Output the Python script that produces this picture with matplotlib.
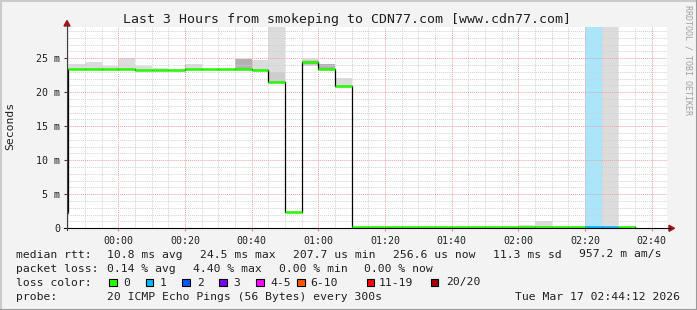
import numpy as np
import matplotlib
matplotlib.use("Agg")
import matplotlib.pyplot as plt
from matplotlib.lines import Line2D
from matplotlib.patches import Polygon, Rectangle

# bin start times in minutes after 00:00 (5 minute steps)
bin_start = [-20, -15, -10, -5, 0, 5, 10, 15, 20, 25, 30, 35, 40, 45, 50, 55, 60, 65,
             70, 75, 80, 85, 90, 95, 100, 105, 110, 115, 120, 125, 130, 135, 140, 145, 150]
bin_width = 5

# median rtt in ms
median = [2.2, 23.4, 23.4, 23.4, 23.4, 23.25, 23.25, 23.25, 23.4, 23.4, 23.4, 23.4, 23.25,
          21.5, 2.45, 24.45, 23.4, 20.95,
          0.25, 0.25, 0.25, 0.25, 0.25, 0.25, 0.25, 0.25, 0.25, 0.25, 0.25, 0.25, 0.25,
          0.25, 0.25, 0.25, 0.25]

# packet loss count per bin (out of 20)
loss = [0] * 32 + [1, 1, 0]

nan = np.nan
# smoke layers (lo, hi) in ms
light_lo = [nan, 23.4, 23.4, 23.4, 23.4, 23.25, 23.25, nan, 23.4, nan, nan, nan, 23.25,
            23.0, nan, 23.8, nan, 20.95,
            nan, nan, nan, nan, nan, nan, nan, nan, nan, nan, 0.25, 0.25, nan, nan, nan, 0.0, nan]
light_hi = [nan, 24.1, 24.5, 23.8, 25.1, 23.9, 23.6, nan, 24.2, nan, nan, nan, 24.8,
            30.0, nan, 24.9, nan, 22.05,
            nan, nan, nan, nan, nan, nan, nan, nan, nan, nan, 0.5, 1.0, nan, nan, nan, 30.0, nan]
mid_lo = [nan] * 13 + [21.5, nan, 23.9] + [nan] * 19
mid_hi = [nan] * 13 + [23.0, nan, 24.8] + [nan] * 19
dark_lo = [nan] * 11 + [23.4, nan, nan, nan, 24.1, 23.4] + [nan] * 18
dark_hi = [nan] * 11 + [24.9, nan, nan, nan, 24.6, 24.2] + [nan] * 18

# loss background band (full height)
loss_band_start = [140]

loss_colors = ["#26ff00", "#00b8ff", "#0059ff", "#7e00ff", "#ff00ff", "#ff5500", "#ff0000", "#a10000"]
loss_labels = ["0", "1", "2", "3", "4-5", "6-10", "11-19", "20/20"]

y_ticks = [0, 5, 10, 15, 20, 25]
y_labels = ["0", "5 m", "10 m", "15 m", "20 m", "25 m"]
x_ticks = [0, 20, 40, 60, 80, 100, 120, 140, 160]
x_labels = ["00:00", "00:20", "00:40", "01:00", "01:20", "01:40", "02:00", "02:20", "02:40"]

rtt_items = ["10.8 ms avg", "24.5 ms max", "207.7 us min", "256.6 us now", "11.3 ms sd", "957.2 m am/s"]
loss_items = ["0.14 % avg", "4.40 % max", "0.00 % min", "0.00 % now"]
probe_text = "20 ICMP Echo Pings (56 Bytes) every 300s"
date_text = "Tue Mar 17 02:44:12 2026"

W, H = 697, 310
MONO = "DejaVu Sans Mono"
plt.rcParams["font.family"] = MONO
TXT = "#202020"


def px(x, y):
    # pixel coords (from top-left) -> figure fraction
    return x / W, 1 - y / H


fig = plt.figure(figsize=(W / 100, H / 100), dpi=100, facecolor="#f3f3f3")

# plot area
left, right, top, bottom = 67, 667, 27, 228.3
ax = fig.add_axes([left / W, 1 - bottom / H, (right - left) / W, (bottom - top) / H])
ax.set_facecolor("white")
ax.set_xlim(-15.4, 164.6)
ax.set_ylim(0, 29.6)
for s in ax.spines.values():
    s.set_visible(False)

# smoke
for i, s in enumerate(bin_start):
    for lo, hi, col in ((light_lo, light_hi, "#dcdcdc"), (mid_lo, mid_hi, "#cdcdcd"),
                        (dark_lo, dark_hi, "#b2b2b2")):
        if not np.isnan(lo[i]):
            ax.fill_between([s, s + bin_width], lo[i], hi[i], color=col, lw=0, zorder=1)

for s in loss_band_start:
    ax.axvspan(s, s + bin_width, color="#aae6fb", lw=0, zorder=1)

# grid
ax.set_xticks(x_ticks, labels=x_labels)
ax.set_xticks(np.arange(-15, 165, 5), minor=True)
ax.set_yticks(y_ticks, labels=y_labels)
ax.set_yticks(np.arange(1, 30, 1), minor=True)
ax.set_axisbelow(False)
ax.grid(which="minor", color="#d2d2d2", lw=0.7, ls=(0, (1, 1)), zorder=2)
ax.grid(which="major", color="#f4a0a0", lw=0.7, ls=(0, (1, 1)), zorder=2)
ax.tick_params(axis="x", which="major", length=2.2, color="#f08080", pad=3.2, labelsize=7.2,
               labelcolor=TXT)
ax.tick_params(axis="y", which="major", length=2.2, color="#404040", pad=2.9, labelsize=7.2,
               labelcolor=TXT)
ax.tick_params(which="minor", length=0)


def loss_index(n):
    if n < 4:
        return n
    if n <= 5:
        return 4
    if n <= 10:
        return 5
    if n < 20:
        return 6
    return 7


# median line: black step + colored loss segments
xs = bin_start + [bin_start[-1] + bin_width]
ys = median + [median[-1]]
ax.step(xs, ys, where="post", color="black", lw=0.9, zorder=3)
for s, m, l in zip(bin_start, median, loss):
    ax.hlines(m, s, s + bin_width, color=loss_colors[loss_index(l)], lw=1.8, zorder=4)

# axes lines and arrows
fig.add_artist(Line2D([px(64, 0)[0], px(670, 0)[0]], [px(0, bottom)[1]] * 2, color="black", lw=0.8))
fig.add_artist(Line2D([px(left, 0)[0]] * 2, [px(0, bottom + 2)[1], px(0, 24)[1]], color="#404040", lw=0.8))
fig.add_artist(Polygon([px(67, 20.5), px(64, 26), px(70, 26)], closed=True, color="#a01515",
                       transform=fig.transFigure))
fig.add_artist(Polygon([px(674.5, bottom), px(669, bottom - 3), px(669, bottom + 3)], closed=True,
                       color="#a01515", transform=fig.transFigure))

# title and labels
fig.text(*px(347, 19), "Last 3 Hours from smokeping to CDN77.com [www.cdn77.com]",
         ha="center", va="center", fontsize=9.5, color=TXT)
fig.text(*px(10, 126), "Seconds", rotation=90, ha="center", va="center", fontsize=8.2, color=TXT)
fig.text(*px(688, 60), "RRDTOOL / TOBI OETIKER", rotation=270, ha="center", va="center",
         fontsize=6, color="#a0a0a0")

# legend
fs = 8.2
b1, b2, b3, b4 = 257.5, 271.5, 285.5, 299.5


def ltext(x, b, s, ha="left"):
    fig.text(*px(x, b), s, ha=ha, va="baseline", fontsize=fs, color=TXT)


ltext(16, b1, "median rtt:")
for x, s in zip([107, 200, 293.3, 393.3, 493.3, 579], rtt_items):
    ltext(x, b1, s)
ltext(16, b2, "packet loss:")
for x, s in zip([107.3, 193.3, 279.3, 364], loss_items):
    ltext(x, b2, s)
ltext(16, b3, "loss color:")
ltext(16, b4, "probe:")
ltext(107, b4, probe_text)
ltext(680, b4, date_text, ha="right")

box_x = [109, 145.7, 182.3, 219, 256, 297, 366.7, 430.7]
lab_x = [123.3, 160, 196.7, 233.3, 270, 310.5, 379, 445.7]
for bx, lx, c, lab in zip(box_x, lab_x, loss_colors, loss_labels):
    x0, y0 = px(bx, 286)
    fig.add_artist(Rectangle((x0, y0), 7.5 / W, 7.5 / H, facecolor=c, edgecolor="black", lw=0.8,
                             transform=fig.transFigure))
    ltext(lx, b3, lab)

# frame
fig.add_artist(Line2D([0, 1], [1 - 0.5 / H] * 2, color="#cbcbcb", lw=1.5))
fig.add_artist(Line2D([0.5 / W] * 2, [0, 1], color="#cbcbcb", lw=1.5))
fig.add_artist(Line2D([0, 1], [0.5 / H] * 2, color="#9a9a9a", lw=1.5))
fig.add_artist(Line2D([1 - 0.5 / W] * 2, [0, 1], color="#9a9a9a", lw=1.5))

fig.savefig("out.png", dpi=100, facecolor=fig.get_facecolor())
